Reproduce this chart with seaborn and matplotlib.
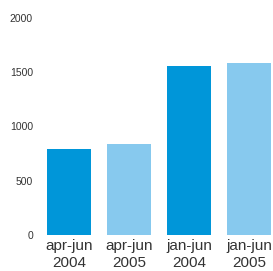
import matplotlib
matplotlib.use("Agg")
import matplotlib.pyplot as plt
import seaborn as sns
import pandas as pd

categories = ["apr-jun\n2004", "apr-jun\n2005", "jan-jun\n2004", "jan-jun\n2005"]
values = [790, 836, 1553, 1581]
colors = ["#0096d9", "#87c9ee", "#0096d9", "#87c9ee"]
yticks = [0, 500, 1000, 1500, 2000]

sns.set_theme(style="white")
plt.rcParams['font.family'] = ['Liberation Sans', 'DejaVu Sans']

df = pd.DataFrame({"cat": categories, "val": values})

fig = plt.figure(figsize=(2.73, 2.71), dpi=100)
ax = fig.add_axes([40/273, (271-235)/271, (271-40)/273, (235-17.5)/271])
sns.barplot(data=df, x="cat", y="val", hue="cat", palette=colors, width=0.733,
            legend=False, ax=ax, saturation=1, linewidth=0)
ax.set_xlim(-0.483, 3.367)
ax.set_ylim(0, 2000)
ax.set_yticks(yticks)
ax.set_yticklabels([str(t) for t in yticks], fontsize=7.5, color="#333333")
ax.tick_params(axis="y", length=0, pad=5)
ax.tick_params(axis="x", length=0, pad=3, labelsize=11, labelcolor="#333333")
for lbl in ax.get_xticklabels():
    lbl.set_linespacing(1.25)
ax.set_xlabel("")
ax.set_ylabel("")
for s in ax.spines.values():
    s.set_visible(False)
fig.savefig("out.png", dpi=100, facecolor="white")
